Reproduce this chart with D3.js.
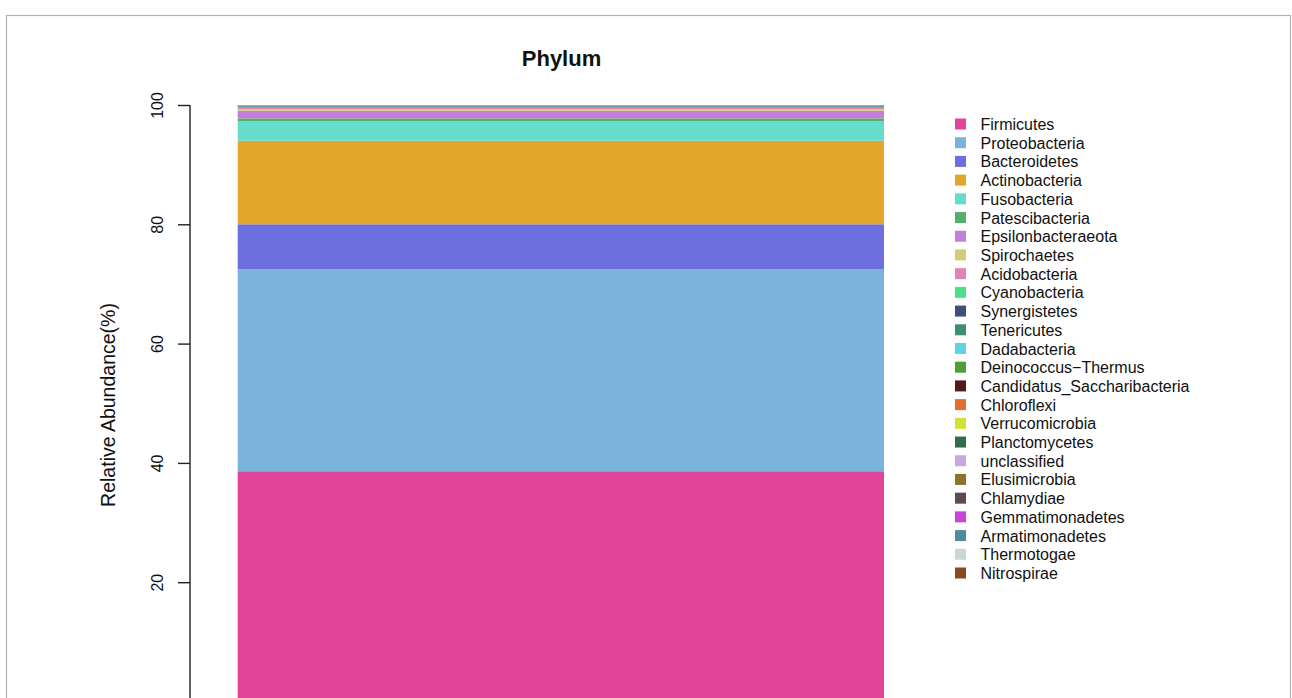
<!DOCTYPE html>
<html>
<head>
<meta charset="utf-8">
<script src="https://cdn.jsdelivr.net/npm/d3@7"></script>
<style>
  html, body { margin: 0; padding: 0; background: #fff; }
  svg { display: block; font-family: "Liberation Sans", Arial, Helvetica, sans-serif; }
</style>
</head>
<body>
<svg id="chart" width="1292" height="698"></svg>
<script>
// ---- data ----
const phyla = ["Firmicutes","Proteobacteria","Bacteroidetes","Actinobacteria","Fusobacteria",
  "Patescibacteria","Epsilonbacteraeota","Spirochaetes","Acidobacteria","Cyanobacteria",
  "Synergistetes","Tenericutes","Dadabacteria","Deinococcus\u2212Thermus","Candidatus_Saccharibacteria",
  "Chloroflexi","Verrucomicrobia","Planctomycetes","unclassified","Elusimicrobia",
  "Chlamydiae","Gemmatimonadetes","Armatimonadetes","Thermotogae","Nitrospirae"];
const abundance = [38.6, 33.9, 7.5, 14.0, 3.26,
  0.5, 1.26, 0.28, 0.22, 0.08,
  0.12, 0.14, 0.03, 0.02, 0.02,
  0.01, 0.01, 0.01, 0.01, 0.005,
  0.005, 0.005, 0.005, 0.003, 0.002];
const colors = ["#E2449A","#7AB4DA","#6D6FDE","#E4A52D","#66DDCB",
  "#55AD6F","#C57FD8","#CFCF7A","#E083B4","#4DE08A",
  "#3D4E7F","#3F8C78","#5ED3E4","#4CA034","#521A1A",
  "#E0702F","#D6E030","#356B4A","#C6A9E0","#8A7629",
  "#5A4A55","#C845D6","#4F8B9C","#C8D8D2","#8A4A20"];
const yTicks = [0, 20, 40, 60, 80, 100];
const sample = ["All"];
const title = "Phylum";
const yLabel = "Relative Abundance(%)";

// ---- drawing ----
const svg = d3.select("#chart");

// outer frame
svg.append("rect").attr("x", 6.5).attr("y", 15.5).attr("width", 1284).attr("height", 720)
  .attr("fill", "none").attr("stroke", "#b3b3b3").attr("stroke-width", 1.2);

// normalise to 100
const total = d3.sum(abundance);
const rows = phyla.map((p, i) => ({ name: p, value: abundance[i] / total * 100, color: colors[i] }));
let cum = 0;
rows.forEach(r => { r.y0 = cum; cum += r.value; r.y1 = cum; });

const y = d3.scaleLinear().domain([0, 100]).range([701.5, 105]);
const x = d3.scaleBand().domain(sample).range([237.7, 884]).padding(0);

// bars
svg.append("g").selectAll("rect").data(rows).join("rect")
  .attr("x", x(sample[0]))
  .attr("width", x.bandwidth())
  .attr("y", d => y(d.y1))
  .attr("height", d => y(d.y0) - y(d.y1))
  .attr("fill", d => d.color);

// y axis
const axis = d3.axisLeft(y).tickValues(yTicks).tickSize(12).tickPadding(0).tickFormat(d3.format("d"));
const gA = svg.append("g").attr("transform", "translate(190,0)").call(axis);
gA.select(".domain").attr("stroke", "#222").attr("stroke-width", 1.4).attr("d", `M0,${y(100)}V${y(0)}`);
gA.selectAll(".tick line").attr("stroke", "#222").attr("stroke-width", 1.4);
gA.selectAll(".tick text")
  .attr("x", null).attr("dy", null)
  .attr("transform", "translate(-27,0) rotate(-90)")
  .attr("text-anchor", "middle")
  .attr("y", 0)
  .attr("fill", "#111")
  .style("font-size", "16px")
  .style("font-family", "Liberation Sans, Arial, sans-serif");

// y label
svg.append("text")
  .attr("transform", `translate(115,${405}) rotate(-90)`)
  .attr("text-anchor", "middle")
  .attr("fill", "#111")
  .style("font-size", "19.5px")
  .text(yLabel);

// title
svg.append("text")
  .attr("x", 561.5).attr("y", 66)
  .attr("text-anchor", "middle")
  .attr("fill", "#111")
  .style("font-size", "22px").style("font-weight", "bold")
  .text(title);

// legend
const leg = svg.append("g");
const ly = d3.scaleLinear().domain([0, phyla.length - 1]).range([124, 573]);
const items = leg.selectAll("g").data(rows).join("g")
  .attr("transform", (d, i) => `translate(0,${ly(i)})`);
items.append("rect").attr("x", 955).attr("y", -5.5).attr("width", 11).attr("height", 11)
  .attr("fill", d => d.color);
items.append("text").attr("x", 980.5).attr("y", 6)
  .attr("fill", "#111").style("font-size", "16px")
  .text(d => d.name);
</script>
</body>
</html>
